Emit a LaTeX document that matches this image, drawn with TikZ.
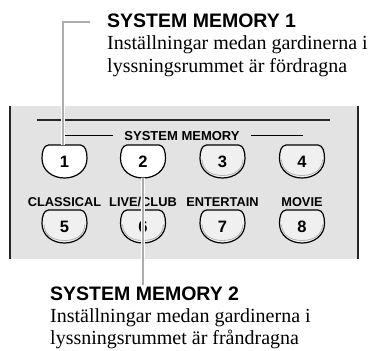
\documentclass[tikz,border=0pt]{standalone}
\usepackage{fontspec}
\setmainfont{Liberation Serif}
\setsansfont{Liberation Sans}
\usepackage{tikz}
\usetikzlibrary{positioning,calc}
\newcommand{\keyoutline}{(-16,-16.5) -- (16,-16.5)
    .. controls (21,-16) and (22.5,-10) .. (22.5,-3)
    .. controls (22.5,9) and (12,16.5) .. (0,16.5)
    .. controls (-12,16.5) and (-22.5,9) .. (-22.5,-3)
    .. controls (-22.5,-10) and (-21,-16) .. (-16,-16.5) -- cycle}
\begin{document}
\begin{tikzpicture}[x=1pt,y=-1pt,
  head/.style={
    font=\fontsize{19.5}{22}\selectfont\sffamily\bfseries,
    anchor=base west,
    inner sep=0pt
  },
  body/.style={
    font=\fontsize{20}{22}\selectfont\rmfamily,
    anchor=base west,
    inner sep=0pt
  },
  tag/.style={
    font=\fontsize{12.8}{14}\selectfont\sffamily\bfseries,
    anchor=base,
    inner sep=0pt
  },
  key/.style={
    font=\fontsize{16.5}{16}\selectfont\sffamily\bfseries,
    inner sep=0pt,
    minimum width=45pt,
    minimum height=33pt
  },
  keyshape/.style={draw=black, line width=1.2pt, line join=round},
  callout/.style={
    draw=gray!65,
    line width=2pt,
    preaction={draw=white, line width=4.5pt}
  }
]
\useasboundingbox (0,0) rectangle (368,351);
% Panel of the remote control.
  \fill[gray!22] (10,106) rectangle (358,259);
  \draw[black!85, line width=2.5pt] (10,106) -- (10,259);
  \draw[black!85, line width=2.5pt] (358,106) -- (358,259);
  \draw[black!85, line width=1.5pt] (37,120) -- (330,120);
\node[tag, font=\fontsize{13}{14}\selectfont\sffamily\bfseries] (sm) at (182,140) {SYSTEM MEMORY};
  \draw[line width=1.2pt] ([xshift=-11pt]sm.west) -- +(-48,0);
  \draw[line width=1.2pt] ([xshift=11pt]sm.east) -- +(52,0);
% Keys, top row and bottom row.
\foreach \n/\x/\y/\c in {1/64.5/161.5/white, 2/143/161.5/white,
    3/222.5/161.5/gray!12, 4/302/161.5/gray!12,
    5/64.5/226.5/gray!12, 6/143/226.5/gray!12,
    7/222.5/226.5/gray!12, 8/302/226.5/gray!12}{
  \draw[keyshape, fill=\c, shift={(\x,\y)}] \keyoutline;
  \node[key] (b\n) at (\x,\y) {\n};
}
\foreach \n in {3,...,8}{
  \draw[gray!60, line width=0.8pt, shift={(b\n.center)}]
    (-20.5,-2) .. controls (-20,9) and (-11,14) .. (0,14)
    .. controls (11,14) and (20,9) .. (20.5,-2);
}
\node[tag] (l5) at (64.5,206) {CLASSICAL};
  \node[tag] (l6) at (143,206) {LIVE/CLUB};
  \node[tag] (l7) at (222.5,206) {ENTERTAIN};
  \node[tag] (l8) at (302,206) {MOVIE};
% Callouts.
\node[head] (memA) at (107,27) {SYSTEM MEMORY 1};
  \node[body] (txtA1) at (107,49) {Inställningar medan gardinerna i};
  \node[body] (txtA2) at (107,72) {lyssningsrummet är fördragna};
  \node[head] (memB) at (50,300) {SYSTEM MEMORY 2};
  \node[body] (txtB1) at (50,322) {Inställningar medan gardinerna i};
  \node[body] (txtB2) at (50,344) {lyssningsrummet är fråndragna};
  \coordinate (endA) at (90,22);
  \coordinate (endB) at (143,285);
  \draw[callout] ([xshift=-1.5pt]b1.north) |- (endA);
  \draw[callout] (b2.south) -- (endB);
\end{tikzpicture}
\end{document}
